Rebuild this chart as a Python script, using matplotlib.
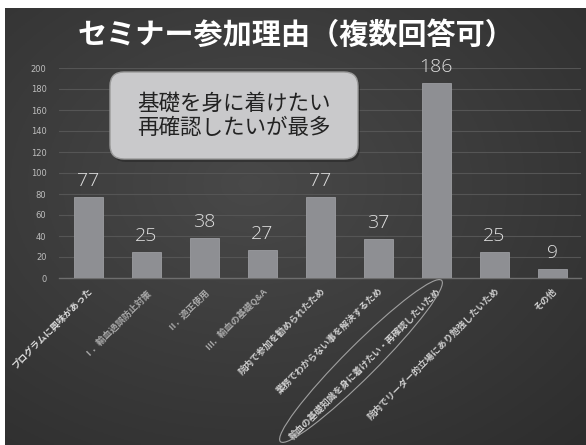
import numpy as np
import matplotlib
matplotlib.use("Agg")
import matplotlib.pyplot as plt
from matplotlib.patches import FancyBboxPatch, Ellipse

plt.rcParams['font.family'] = ['Noto Sans CJK JP', 'DejaVu Sans']

categories = [
    "プログラムに興味があった",
    "Ⅰ．輸血過誤防止対策",
    "Ⅱ．適正使用",
    "Ⅲ．輸血の基礎Q&A",
    "院内で参加を勧められたため",
    "業務でわからない事を解決するため",
    "輸血の基礎知識を身に着けたい・再確認したいため",
    "院内でリーダー的立場にあり勉強したいため",
    "その他",
]
values = [77, 25, 38, 27, 77, 37, 186, 25, 9]
yticks = [0, 20, 40, 60, 80, 100, 120, 140, 160, 180, 200]
title = "セミナー参加理由（複数回答可）"
callout = "基礎を身に着けたい\n再確認したいが最多"

W, H = 586, 445
fig = plt.figure(figsize=(W / 100, H / 100), dpi=100, facecolor='white')

# slide background with soft radial gradient
bg = fig.add_axes([5 / W, 0, 581 / W, 437 / H])
bg.set_axis_off()
ny, nx = 200, 260
yy, xx = np.mgrid[0:ny, 0:nx]
cx, cy = nx * 0.42, ny * 0.40
r = np.sqrt(((xx - cx) / nx) ** 2 + ((yy - cy) / ny) ** 2)
val = 0.285 - 0.13 * r
img = np.dstack([val, val, val * 1.0])
img = np.clip(img, 0, 1)
bg.imshow(img, aspect='auto', extent=[0, 1, 0, 1], origin='upper')
bg.set_xlim(0, 1)
bg.set_ylim(0, 1)

# chart axes
ax = fig.add_axes([59 / W, (H - 278) / H, (581 - 59) / W, 210 / H])
ax.patch.set_alpha(0)
x = np.arange(len(categories))
bars = ax.bar(x, values, width=0.5, color='#8e8f93', edgecolor='#9c9da1', linewidth=0.6, zorder=3)
ax.set_xlim(-0.5, len(categories) - 0.5)
ax.set_ylim(0, 200)
ax.set_yticks(yticks)
ax.set_yticklabels([str(t) for t in yticks], fontsize=6, color='#bdbdbd', family=['DejaVu Sans'])
ax.yaxis.grid(True, color='#555555', linewidth=0.8, zorder=0)
ax.tick_params(axis='y', length=0, pad=9)
ax.tick_params(axis='x', length=0, pad=6)
for s in ['top', 'right', 'left']:
    ax.spines[s].set_visible(False)
ax.spines['bottom'].set_color('#6e6e6e')
ax.spines['bottom'].set_linewidth(1.0)

label_colors = ['#dcdcdc', '#a9a9a9', '#a9a9a9', '#a9a9a9', '#cfcfcf', '#cfcfcf', '#cfcfcf', '#cfcfcf', '#cfcfcf']
ax.set_xticks(x)
ax.set_xticklabels(categories, rotation=45, ha='right', va='top', rotation_mode='anchor', fontsize=6.6, fontweight='bold')
for lab, c in zip(ax.get_xticklabels(), label_colors):
    lab.set_color(c)

for xi, v in zip(x, values):
    ax.annotate(str(v), (xi, v), xytext=(0, 5), textcoords='offset points', ha='center', va='bottom',
                fontsize=14, color='#dedede', family=['Open Sans', 'DejaVu Sans'], fontweight='light')

# title
fig.text(296 / W, 1 - 35 / H, title, ha='center', va='center', fontsize=21, fontweight='bold', color='white')

# callout box
box = FancyBboxPatch((110 / 100, (H - 159) / 100), (358 - 110) / 100, (159 - 72) / 100,
                     boxstyle='round,pad=0,rounding_size=0.14', transform=fig.dpi_scale_trans,
                     facecolor='#c9c9cb', edgecolor='#9a9a9a', linewidth=1.0, zorder=5)
shadow = FancyBboxPatch((112 / 100, (H - 162) / 100), (358 - 110) / 100, (159 - 72) / 100,
                        boxstyle='round,pad=0,rounding_size=0.14', transform=fig.dpi_scale_trans,
                        facecolor='#222222', edgecolor='none', alpha=0.5, zorder=4)
fig.patches.extend([shadow, box])
fig.text(234 / W, 1 - 116 / H, callout, ha='center', va='center', fontsize=15.5, color='#222222',
         linespacing=1.15, zorder=6)

# ellipse highlight around the top reason label
ell = Ellipse((361 / 100, (H - 361) / 100), 2.28, 0.32, angle=45, transform=fig.dpi_scale_trans,
              fill=False, edgecolor='#a0a0a0', linewidth=0.8, zorder=6)
fig.patches.append(ell)

fig.savefig('out.png', dpi=100, facecolor='white')
